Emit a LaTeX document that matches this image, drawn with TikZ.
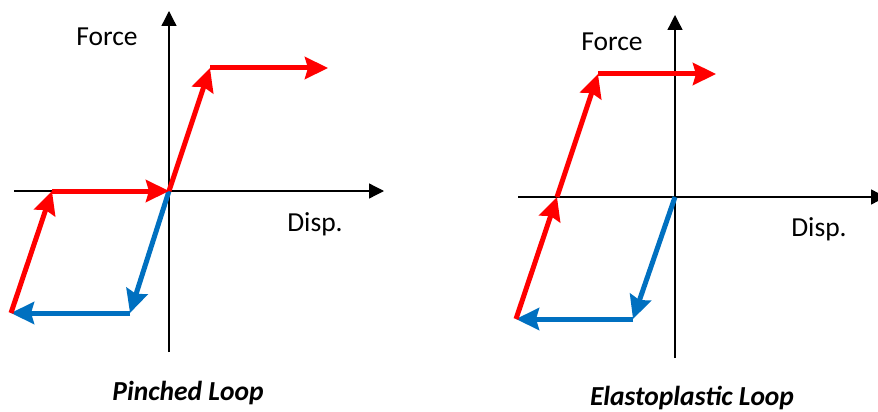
\documentclass[tikz,border=0pt]{standalone}
\usepackage{fontspec}
\setmainfont{Carlito}
\usetikzlibrary{arrows.meta}
\colorlet{loopred}{red}
\definecolor{loopblue}{RGB}{0,112,192}

\begin{document}
\begin{tikzpicture}[
  x=1pt, y=-1pt,
  >={Stealth[length=23pt,width=22pt,inset=3pt]},
  axis/.style = {line width=1.3pt,-{Triangle[length=15pt,width=15pt]}},
  r/.style = {loopred,line width=5pt,->},
  b/.style = {loopblue,line width=5pt,->},
  lbl/.style = {font=\fontsize{27.5}{33}\selectfont,inner sep=0pt},
  ttl/.style = {font=\fontsize{27.5}{33}\selectfont\bfseries\itshape,inner sep=0pt}
  ]
  \useasboundingbox (0,0) rectangle (878,412);
  % Pinched loop
  \coordinate (x1s) at (14,191);  \coordinate (x1e) at (384,191);
  \coordinate (y1s) at (169,352); \coordinate (y1e) at (169,11);
  \coordinate (o1) at (169,191);
  \coordinate (a1) at (11,313);  \coordinate (b1) at (52,191);
  \coordinate (c1) at (210,68);  \coordinate (d1) at (328,68);
  \coordinate (e1) at (130,313);
  \draw[axis] (x1s) -- (x1e);
  \draw[axis] (y1s) -- (y1e);
  \foreach \s/\t in {o1/e1, e1/a1}
    \draw[b] (\s) -- (\t);
  \foreach \s/\t in {a1/b1, b1/o1, o1/c1, c1/d1}
    \draw[r] (\s) -- (\t);
  \node[lbl] (force1) at (107,37) {Force};
  \node[lbl] (disp1) at (315,224) {Disp.};
  \node[ttl] (pinched) at (188,393) {Pinched Loop};
  % Elastoplastic loop
  \coordinate (x2s) at (518,197); \coordinate (x2e) at (886,197);
  \coordinate (y2s) at (675,358); \coordinate (y2e) at (675,15);
  \coordinate (o2) at (675,197);
  \coordinate (a2) at (516,319); \coordinate (b2) at (557,197);
  \coordinate (c2) at (598,74);  \coordinate (d2) at (716,74);
  \coordinate (e2) at (633,319);
  \draw[axis] (x2s) -- (x2e);
  \draw[axis] (y2s) -- (y2e);
  \foreach \s/\t in {o2/e2, e2/a2}
    \draw[b] (\s) -- (\t);
  \foreach \s/\t in {a2/b2, b2/c2, c2/d2}
    \draw[r] (\s) -- (\t);
  \node[lbl] (force2) at (612,42) {Force};
  \node[lbl] (disp2) at (819,229) {Disp.};
  \node[ttl] (elasto) at (692,398) {Elastoplastic Loop};
\end{tikzpicture}
\end{document}
